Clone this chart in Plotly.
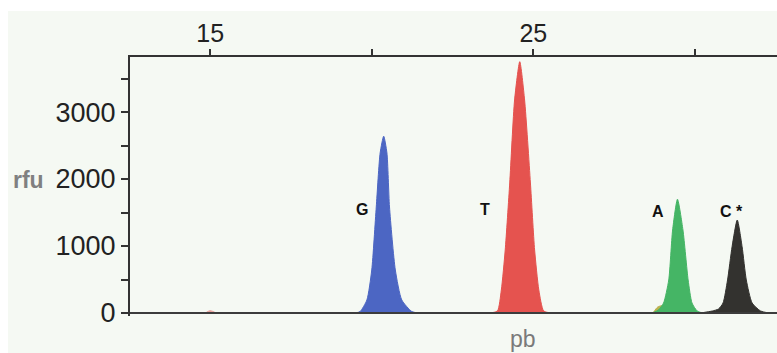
import plotly.graph_objects as go

# Fragment size axis (pb) and signal axis (rfu)
size_ticks = [15, 20, 25, 30]
size_labels = ["15", "", "25", ""]
rfu_ticks = [0, 1000, 2000, 3000]
rfu_labels = ["0", "1000", "2000", "3000"]

# Peak outlines (size in pb, signal in rfu)
g_size = [19.49, 19.64, 19.85, 20.00, 20.14, 20.26, 20.37, 20.47, 20.55, 20.73, 20.93, 21.24, 21.44]
g_rfu = [0, 22, 194, 642, 1583, 2389, 2640, 2389, 1583, 642, 194, 22, 0]

t_size = [23.67, 23.89, 24.01, 24.13, 24.27, 24.42, 24.58, 24.73, 24.91, 25.04, 25.17, 25.32, 25.53]
t_rfu = [0, 30, 343, 941, 1941, 3180, 3752, 3180, 1941, 941, 343, 30, 0]

a_size = [28.68, 28.87, 29.03, 29.19, 29.31, 29.46, 29.63, 29.79, 29.91, 30.07, 30.23]
a_rfu = [0, 45, 149, 493, 1239, 1698, 1239, 493, 149, 30, 0]

c_size = [30.17, 30.54, 30.73, 30.87, 31.01, 31.15, 31.31, 31.46, 31.59, 31.77, 32.03, 32.28]
c_rfu = [0, 30, 60, 149, 493, 990, 1388, 990, 493, 149, 30, 0]

# Small shoulder under the A peak and a faint artefact near 15 pb
y_size = [28.70, 28.85, 29.00, 29.15, 29.30]
y_rfu = [0, 90, 110, 70, 0]
r_size = [14.85, 15.00, 15.19]
r_rfu = [0, 35, 0]

base_size = [12.4, 32.7]
base_rfu = [0, 0]

peak_labels = ["<b>G</b>", "<b>T</b>", "<b>A</b>", "<b>C *</b>"]
label_size = [19.71, 23.51, 28.87, 31.12]
label_rfu = [1540, 1540, 1510, 1510]

X_RANGE = [12.52, 32.54]
Y_RANGE = [-45, 3822]

BG = "#f5f9f3"

fig = go.Figure()


def peak(xs, ys, color):
    fig.add_trace(go.Scatter(
        x=xs, y=ys, mode="lines", fill="toself", fillcolor=color,
        line=dict(color=color, width=1, shape="spline", smoothing=0.6),
        hoverinfo="skip", showlegend=False))


peak(r_size, r_rfu, "#e8a29c")
peak(g_size, g_rfu, "#4c66c3")
peak(t_size, t_rfu, "#e5534f")
peak(y_size, y_rfu, "#b9b24e")
peak(a_size, a_rfu, "#45b565")
peak(c_size, c_rfu, "#33322f")

fig.add_trace(go.Scatter(
    x=base_size, y=base_rfu, mode="lines",
    line=dict(color="#3c3c3c", width=2.2),
    hoverinfo="skip", showlegend=False))

for txt, xs, ys in zip(peak_labels, label_size, label_rfu):
    fig.add_annotation(x=xs, y=ys, text=txt, showarrow=False,
                       font=dict(family="Liberation Sans, Arial", size=16, color="#111"),
                       xanchor="center", yanchor="middle")

x_font = dict(family="Liberation Sans, Arial", size=25, color="#222")
y_font = dict(family="Liberation Sans, Arial", size=27, color="#222")

fig.update_layout(
    width=777, height=353,
    margin=dict(l=130, r=0, t=57, b=37),
    paper_bgcolor=BG,
    plot_bgcolor=BG,
    xaxis=dict(
        range=X_RANGE, side="top", showgrid=False, zeroline=False,
        showline=True, linecolor="#333", linewidth=2,
        tickvals=size_ticks, ticktext=size_labels,
        ticks="outside", ticklen=6, tickwidth=1.5, tickcolor="#333",
        tickfont=x_font, ticklabelstandoff=-3,
    ),
    xaxis2=dict(
        range=X_RANGE, overlaying="x", side="top", showgrid=False,
        zeroline=False, showline=False, showticklabels=False,
        tickvals=size_ticks, ticks="inside", ticklen=6, tickwidth=1.5,
        tickcolor="#333",
    ),
    yaxis=dict(
        range=Y_RANGE, showgrid=False, zeroline=False,
        showline=True, linecolor="#333", linewidth=2,
        tickvals=rfu_ticks, ticktext=rfu_labels,
        ticks="outside", ticklen=7, tickwidth=1.5, tickcolor="#333",
        tickfont=y_font,
        minor=dict(ticks="outside", ticklen=7, tickwidth=1.5,
                   tickcolor="#333", tick0=500, dtick=1000),
    ),
    yaxis2=dict(
        range=Y_RANGE, overlaying="y", side="left", showgrid=False,
        zeroline=False, showline=False, showticklabels=False,
        tickvals=[0, 500, 1000, 1500, 2000, 2500, 3000, 3500],
        ticks="inside", ticklen=7, tickwidth=1.5, tickcolor="#333",
    ),
)

# Thin white frame along the top and left edges of the page
fig.add_shape(type="rect", xref="paper", yref="paper",
              x0=-0.25, x1=1.05, y0=1.178, y1=1.3,
              fillcolor="white", line=dict(width=0), layer="above")
fig.add_shape(type="rect", xref="paper", yref="paper",
              x0=-0.25, x1=-0.1886, y0=-0.2, y1=1.3,
              fillcolor="white", line=dict(width=0), layer="above")

fig.add_annotation(xref="paper", yref="paper", x=-0.184, y=0.525,
                   text="<b>rfu</b>", showarrow=False, xanchor="left", yanchor="middle",
                   font=dict(family="Liberation Sans, Arial", size=23, color="#808080"))
fig.add_annotation(xref="paper", yref="paper", x=0.607, y=-0.09,
                   text="pb", showarrow=False, xanchor="center", yanchor="middle",
                   font=dict(family="Liberation Sans, Arial", size=23, color="#7a7a7a"))

fig.write_html("out.html")
